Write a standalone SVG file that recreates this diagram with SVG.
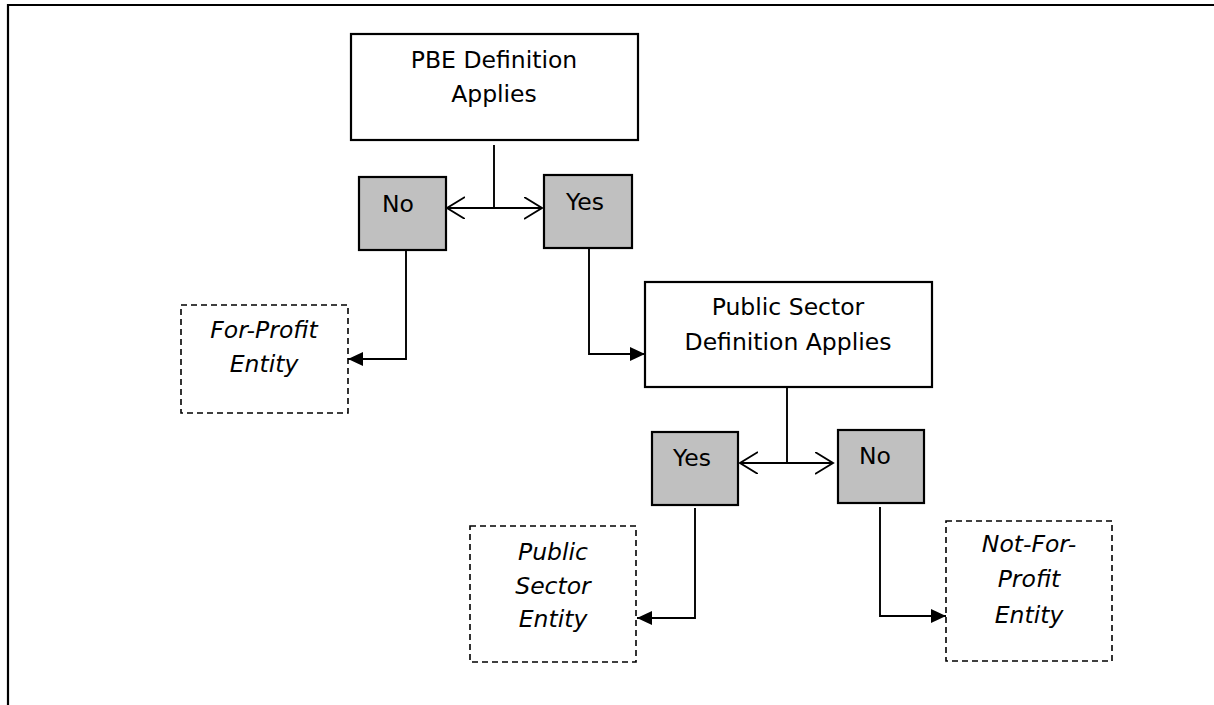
<svg xmlns="http://www.w3.org/2000/svg" width="1214" height="705" viewBox="0 0 1214 705">
<style>
text{font-family:"DejaVu Sans","Verdana",sans-serif;font-size:23.5px;fill:#000}
.it{font-style:italic}
.mid{text-anchor:middle}
.box{fill:#fff;stroke:#000;stroke-width:2.2}
.dec{fill:#c0c0c0;stroke:#000;stroke-width:2.2}
.ent{fill:#fff;stroke:#000;stroke-width:1.6;stroke-dasharray:6 4}
.con{fill:none;stroke:#000;stroke-width:1.9}
</style>
<defs>
<marker id="fill" markerUnits="userSpaceOnUse" markerWidth="16" markerHeight="14" refX="15" refY="7" orient="auto"><path d="M0,0 L15,7 L0,14 z" fill="#000"/></marker>
<marker id="open" markerUnits="userSpaceOnUse" markerWidth="20" markerHeight="24" refX="18" refY="11" orient="auto-start-reverse"><path d="M0,0 L18,11 L0,22" fill="none" stroke="#000" stroke-width="1.9"/></marker>
</defs>
<rect width="1214" height="705" fill="#fff"/>
<g id="frame"><path d="M8,705 V5 H1214" fill="none" stroke="#000" stroke-width="2.2"/></g>
<g id="pbe"><rect class="box" x="351" y="34" width="287" height="106"/><text class="mid" x="494" y="68">PBE Definition</text><text class="mid" x="494" y="102">Applies</text></g>
<g id="no1"><rect class="dec" x="359" y="177" width="87" height="73"/><text x="382" y="212">No</text></g>
<g id="yes1"><rect class="dec" x="544" y="175" width="88" height="73"/><text x="566" y="210">Yes</text></g>
<g id="forprofit"><rect class="ent" x="181" y="305" width="167" height="108"/><text class="it mid" x="264" y="338">For-Profit</text><text class="it mid" x="264" y="372">Entity</text></g>
<g id="ps"><rect class="box" x="645" y="282" width="287" height="105"/><text class="mid" x="788" y="315">Public Sector</text><text class="mid" x="788" y="350">Definition Applies</text></g>
<g id="yes2"><rect class="dec" x="652" y="432" width="86" height="73"/><text x="673" y="466">Yes</text></g>
<g id="no2"><rect class="dec" x="838" y="430" width="86" height="73"/><text x="859" y="464">No</text></g>
<g id="pse"><rect class="ent" x="470" y="526" width="166" height="136"/><text class="it mid" x="553" y="560">Public</text><text class="it mid" x="553" y="594">Sector</text><text class="it mid" x="553" y="627">Entity</text></g>
<g id="nfp"><rect class="ent" x="946" y="521" width="166" height="140"/><text class="it mid" x="1029" y="552">Not-For-</text><text class="it mid" x="1029" y="587">Profit</text><text class="it mid" x="1029" y="623">Entity</text></g>
<g id="connectors">
<path class="con" d="M494,145 V208"/>
<path class="con" d="M447,208 H542" marker-start="url(#open)" marker-end="url(#open)"/>
<path class="con" d="M406,250 V359 H348" marker-end="url(#fill)"/>
<path class="con" d="M589,248 V354 H645" marker-end="url(#fill)"/>
<path class="con" d="M787,387 V463"/>
<path class="con" d="M740,463 H833" marker-start="url(#open)" marker-end="url(#open)"/>
<path class="con" d="M695,508 V618 H637" marker-end="url(#fill)"/>
<path class="con" d="M880,507 V616 H946" marker-end="url(#fill)"/>
</g>
</svg>
